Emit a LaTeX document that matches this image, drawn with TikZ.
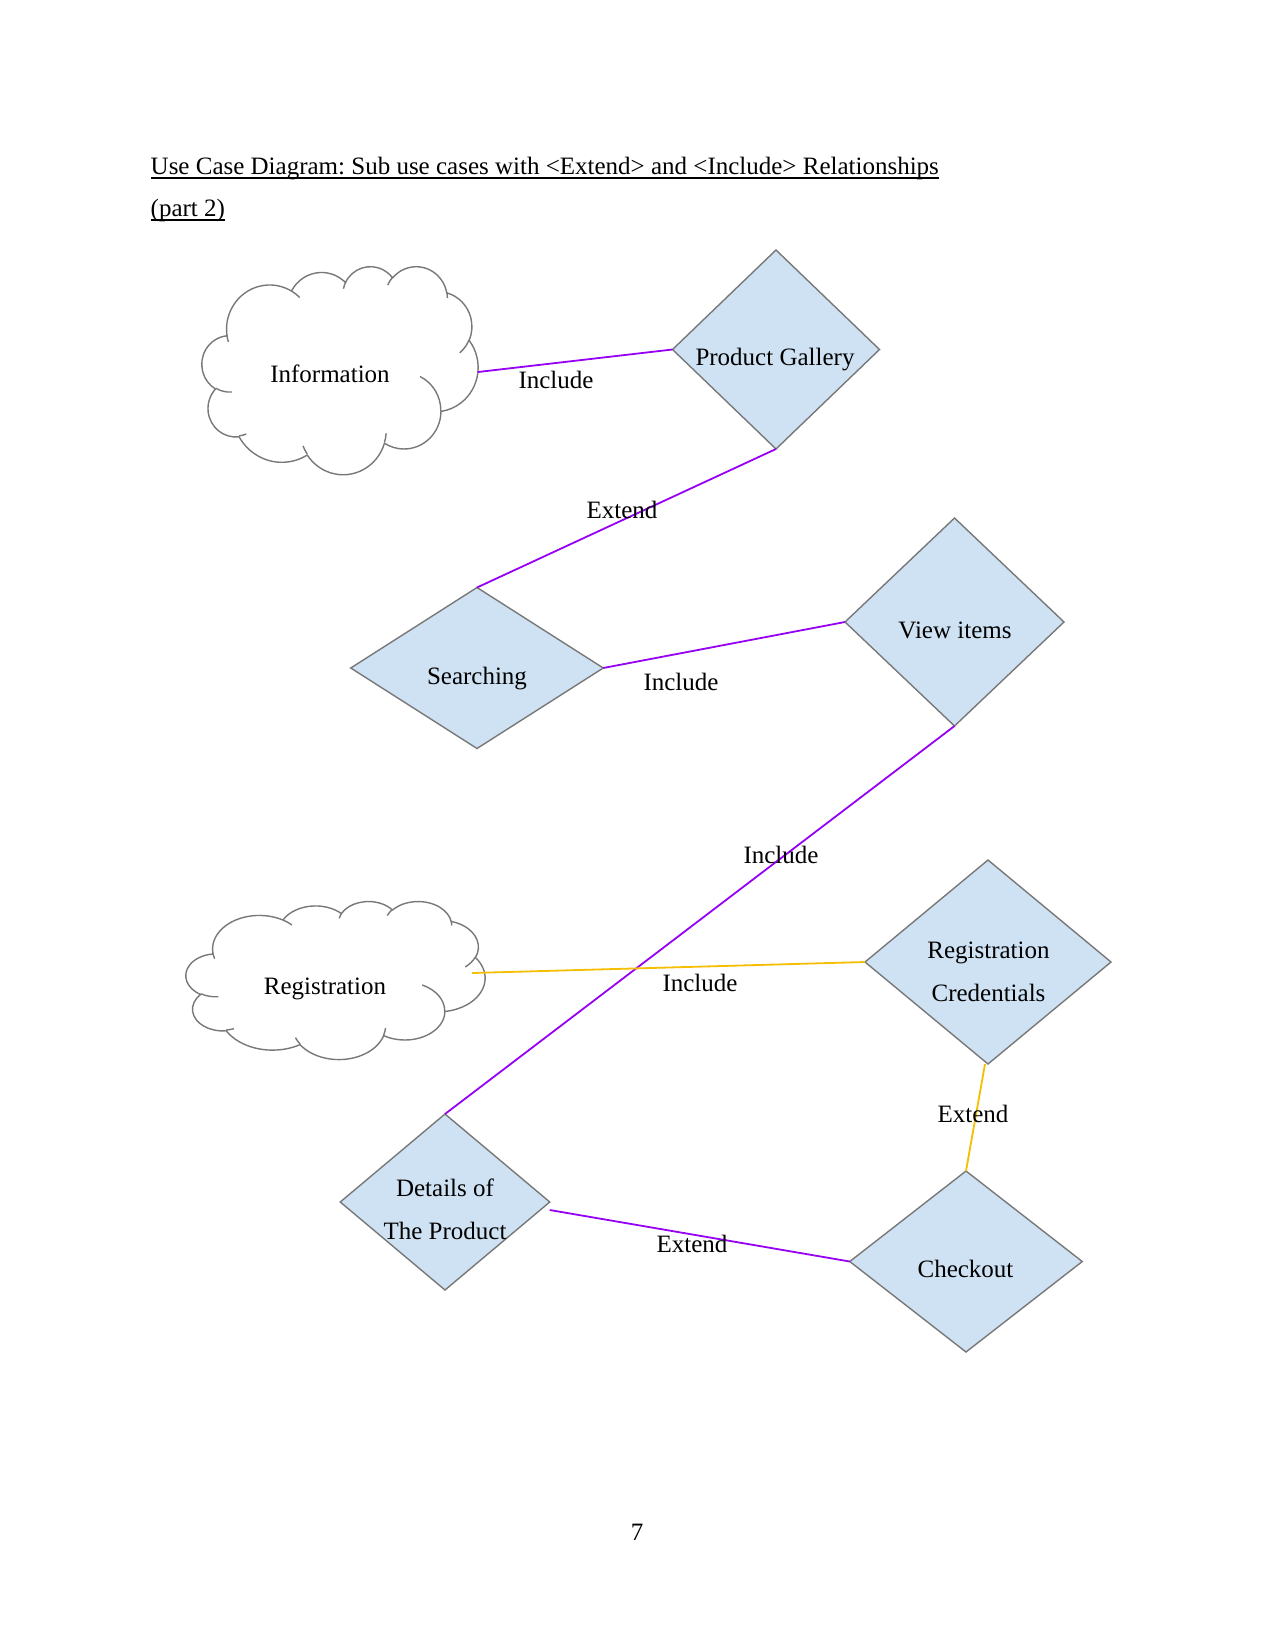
\documentclass[tikz,border=0pt]{standalone}
\usepackage{fontspec}
\setmainfont{Liberation Serif}
\usetikzlibrary{shapes.geometric}
\definecolor{purp}{RGB}{150,0,245}
\definecolor{yel}{RGB}{245,190,0}
\definecolor{dfill}{RGB}{207,226,243}
\definecolor{dline}{RGB}{120,120,120}
% OOXML-style cloud (geometric angles -> parametric)
\newcommand\oocalc[4]{%
  \pgfmathsetmacro\ooTs{atan2((#1)*sin(#3),(#2)*cos(#3))}%
  \pgfmathsetmacro\ooTe{atan2((#1)*sin((#3)+(#4)),(#2)*cos((#3)+(#4)))}%
  \pgfmathsetmacro\ooD{(#4)+mod(\ooTe-\ooTs-(#4)+900,360)-180}%
}
\newcommand\ooadd[4]{\oocalc{#1}{#2}{#3}{#4}%
  \xdef\ooPath{\ooPath arc[start angle=\ooTs, delta angle=\ooD, x radius=#1, y radius=#2]}}
\gdef\ooPath{(39.00,143.70)}
\ooadd{67.53}{91.90}{-190.48748}{123.78053}
\ooadd{53.33}{72.67}{-144.10238}{89.94523}
\ooadd{43.65}{59.45}{-145.80792}{99.72302}
\ooadd{48.57}{65.95}{-130.98607}{117.24173}
\ooadd{53.33}{72.73}{-78.70888}{109.02692}
\ooadd{67.75}{92.20}{-46.26725}{130.269}
\ooadd{57.85}{78.67}{0.62502}{114.03333}
\ooadd{67.52}{92.15}{22.4516}{115.17255}
\ooadd{77.20}{105.43}{66.24263}{75.71102}
\ooadd{43.60}{59.18}{-274.94208}{146.73557}
\ooadd{43.45}{59.45}{-246.8285}{152.51885}
\xdef\ooOutline{\ooPath -- cycle}
\gdef\ooPath{}
\xdef\ooPath{\ooPath (46.93,261.77)}\ooadd{43.45}{59.45}{86.742}{26.4295}
\xdef\ooPath{\ooPath (69.28,348.99)}\ooadd{43.60}{59.18}{73.61047}{11.44747}
\xdef\ooPath{\ooPath (164.78,390.90)}\ooadd{67.52}{92.15}{137.62415}{14.0811}
\xdef\ooPath{\ooPath (288.27,347.51)}\ooadd{67.52}{92.15}{6.45327}{15.99835}
\xdef\ooPath{\ooPath (341.29,229.54)}\ooadd{57.85}{78.67}{-70.29235}{70.91737}
\xdef\ooPath{\ooPath (417.98,153.54)}\ooadd{53.33}{72.73}{30.31803}{27.7515}
\xdef\ooPath{\ooPath (383.24,54.26)}\ooadd{48.57}{65.95}{-13.74433}{14.8589}
\xdef\ooPath{\ooPath (290.78,39.52)}\ooadd{48.57}{65.95}{-149.18145}{18.19537}
\xdef\ooPath{\ooPath (221.41,47.20)}\ooadd{43.65}{59.45}{-163.49427}{17.68635}
\xdef\ooPath{\ooPath (140.00,51.92)}\ooadd{67.53}{91.90}{-66.70695}{12.31935}
\xdef\ooPath{\ooPath (41.27,157.89)}\ooadd{67.53}{91.90}{157.65435}{11.85817}
\xdef\ooHints{\ooPath}
\tikzset{
  uc/.style={diamond, draw=dline, fill=dfill, line width=1.4pt, inner sep=0pt, outer sep=0pt, aspect=1},
  txt/.style={font=\fontsize{25}{30}\selectfont, inner sep=0pt, anchor=base},
  pline/.style={draw=purp, line width=1.8pt},
  yline/.style={draw=yel, line width=1.8pt},
  cloudline/.style={draw=dline, line width=1.4pt, line join=round}
}
\frenchspacing
\begin{document}
\begin{tikzpicture}[x=1pt,y=-1pt]
\useasboundingbox (0,0) rectangle (1275,1651);
% title
\node[txt, anchor=base west] (t1) at (150.5,174) {Use Case Diagram: Sub use cases with <Extend> and <Include> Relationships};
\node[txt, anchor=base west] (t2) at (150.5,216) {(part 2)};
\draw[line width=1.2pt] ([yshift=-4pt]t1.base west) -- ([yshift=-4pt]t1.base east);
\draw[line width=1.2pt] ([yshift=-4pt]t2.base west) -- ([yshift=-4pt]t2.base east);
% clouds
\begin{scope}[shift={(202,266)}, xscale=276/432, yscale=208/432]
  \filldraw[cloudline, fill=white] \ooOutline;
  \draw[cloudline] \ooHints;
\end{scope}
\begin{scope}[shift={(186,901)}, xscale=299/432, yscale=158/432]
  \filldraw[cloudline, fill=white] \ooOutline;
  \draw[cloudline] \ooHints;
\end{scope}
\coordinate (info) at (478,372);
\coordinate (reg) at (472,973);
% use cases
\node[uc, minimum width=207pt, minimum height=199pt] (pg) at (776,349.5) {};
\node[uc, minimum width=252.5pt, minimum height=161pt] (srch) at (477,668) {};
\node[uc, minimum width=219pt, minimum height=208pt] (vi) at (954.5,622) {};
\node[uc, minimum width=246pt, minimum height=204pt] (rc) at (988,962) {};
\node[uc, minimum width=232.5pt, minimum height=181pt] (co) at (966,1261.5) {};
\node[uc, minimum width=209.5pt, minimum height=176pt] (dp) at (445,1202) {};
% connectors
\draw[pline] (info) -- (pg.west);
\draw[pline] (pg.south) -- (srch.north);
\draw[pline] (srch.east) -- (vi.west);
\draw[pline] (vi.south) -- (dp.north);
\draw[yline] (reg) -- (rc.west);
\draw[yline] ([xshift=-3pt]rc.south) -- (co.north);
\draw[pline] ([yshift=-8pt]dp.east) -- (co.west);
% texts
\node[txt] (ti) at (330,382.5) {Information};
\node[txt] (tpg) at (775,365.5) {Product Gallery};
\node[txt] (l1) at (556,388.5) {Include};
\node[txt] (l2) at (622,518) {Extend};
\node[txt] (ts) at (477,684.5) {Searching};
\node[txt] (l3) at (681,690.5) {Include};
\node[txt] (tvi) at (955,638) {View items};
\node[txt] (l4) at (781,863.5) {Include};
\node[txt] (tr) at (325,994) {Registration};
\node[txt] (l5) at (700,991.5) {Include};
\node[txt] (trc1) at (988.5,958) {Registration};
\node[txt] (trc2) at (988.5,1001) {Credentials};
\node[txt] (l6) at (973,1122.5) {Extend};
\node[txt] (tdp1) at (445,1196) {Details of};
\node[txt] (tdp2) at (445,1239) {The Product};
\node[txt] (l7) at (692,1252) {Extend};
\node[txt] (tco) at (965.5,1277) {Checkout};
\node[txt] (pn) at (637,1540) {7};
\end{tikzpicture}
\end{document}
